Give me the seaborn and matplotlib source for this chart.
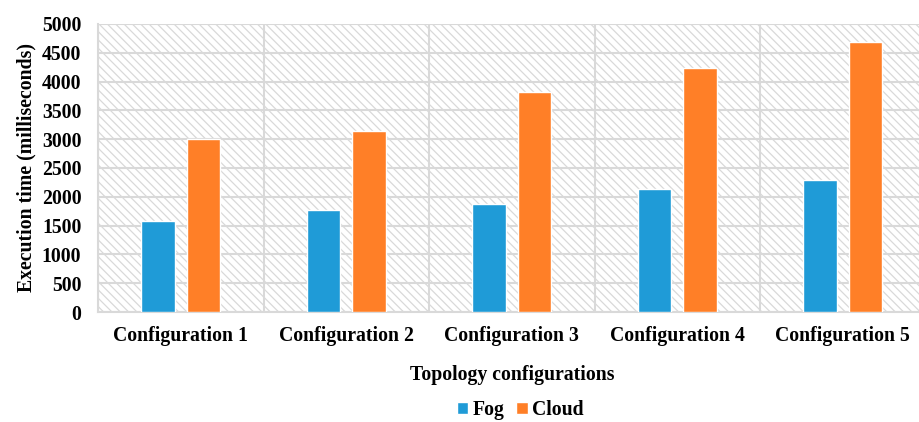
import numpy as np
import pandas as pd
import matplotlib
matplotlib.use("Agg")
import matplotlib.pyplot as plt
import seaborn as sns
from matplotlib.patches import Rectangle

# data
configs = ["Configuration 1", "Configuration 2", "Configuration 3",
           "Configuration 4", "Configuration 5"]
fog = [1580, 1770, 1875, 2130, 2300]
cloud = [2995, 3145, 3820, 4235, 4685]
y_ticks = [0, 500, 1000, 1500, 2000, 2500, 3000, 3500, 4000, 4500, 5000]

df = pd.DataFrame({
    "config": configs * 2,
    "time": fog + cloud,
    "kind": ["Fog"] * len(fog) + ["Cloud"] * len(cloud),
})

sns.set_theme(style="white")
plt.rcParams["font.family"] = ["Liberation Serif", "DejaVu Serif"]
plt.rcParams["font.weight"] = "bold"
plt.rcParams["text.color"] = "black"
plt.rcParams["axes.labelcolor"] = "black"
plt.rcParams["xtick.color"] = "black"
plt.rcParams["ytick.color"] = "black"
plt.rcParams["hatch.color"] = "#dedede"
plt.rcParams["hatch.linewidth"] = 0.9

grid_c = "#d9d9d9"
fs = 14.2

fig = plt.figure(figsize=(9.19, 4.22), dpi=100)
ax = fig.add_axes([98 / 919, 1 - 312 / 422, 827.5 / 919, 288 / 422])

# hatched background
ax.add_patch(Rectangle((0, 0), 1, 1, transform=ax.transAxes, facecolor="white",
                       edgecolor=grid_c, hatch="\\\\\\\\", lw=0, zorder=0))

sns.barplot(data=df, x="config", y="time", hue="kind",
            palette={"Fog": "#1f9bd7", "Cloud": "#ff7f27"}, saturation=1,
            width=0.55, gap=0.27, ax=ax, zorder=3, legend=True)

ax.set_xlim(-0.5, 4.5)
ax.set_ylim(0, 5000)
ax.set_yticks(y_ticks)
ax.set_xticks(np.arange(-0.5, 5, 1), minor=True)
ax.yaxis.grid(True, color=grid_c, lw=1.5, zorder=1)
ax.xaxis.grid(True, which="minor", color=grid_c, lw=1.5, zorder=1)
ax.xaxis.grid(False, which="major")
ax.set_axisbelow(True)
for s in ["top", "right"]:
    ax.spines[s].set_visible(False)
for s in ["left", "bottom"]:
    ax.spines[s].set_color(grid_c)
    ax.spines[s].set_linewidth(1.5)

ax.tick_params(axis="both", which="both", length=0, labelsize=fs)
ax.tick_params(axis="y", pad=12)
ax.tick_params(axis="x", pad=10)
for lab in ax.get_xticklabels() + ax.get_yticklabels():
    lab.set_fontweight("bold")

ax.set_xlabel("Topology configurations", fontsize=fs, fontweight="bold", labelpad=14)
ax.set_ylabel("Execution time (milliseconds)", fontsize=fs, fontweight="bold", labelpad=4)

handles, labels = ax.get_legend_handles_labels()
ax.get_legend().remove()
fig.legend(handles, labels, loc="center", bbox_to_anchor=(520 / 919, 1 - 410 / 422),
           ncol=2, frameon=False, prop={"size": fs, "weight": "bold"},
           handlelength=0.6, handleheight=0.6, handletextpad=0.2, columnspacing=0.6)

fig.savefig("out.png", dpi=100)
